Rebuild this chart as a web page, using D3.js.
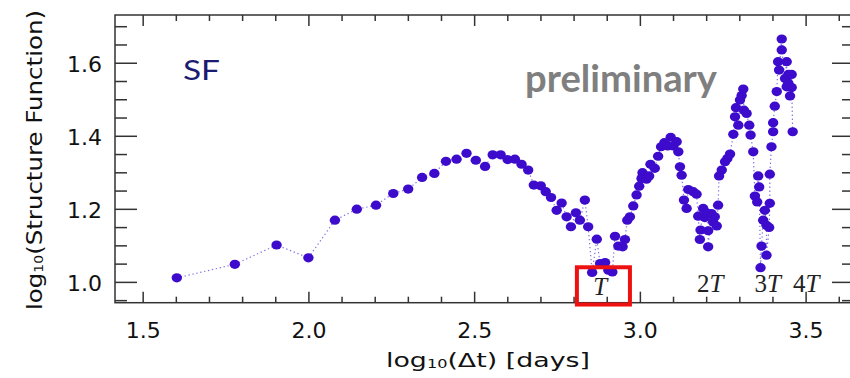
<!DOCTYPE html>
<html>
<head>
<meta charset="utf-8">
<script src="https://cdn.jsdelivr.net/npm/d3@7"></script>
<style>
  html, body { margin: 0; padding: 0; background: #fff; }
  svg { display: block; }
</style>
</head>
<body>
<div id="chart"></div>
<script>
// log10(dt) [days] and log10(SF)
const logDt = [1.603, 1.778, 1.904, 2.000, 2.080, 2.146, 2.204, 2.256, 2.301, 2.343,
  2.380, 2.415, 2.447, 2.477, 2.505, 2.533, 2.556, 2.580, 2.601, 2.623,
  2.643, 2.663, 2.680, 2.701, 2.716, 2.732, 2.749, 2.764, 2.779, 2.792,
  2.807, 2.819, 2.834, 2.844, 2.856, 2.870, 2.880, 2.895, 2.905, 2.917,
  2.925, 2.935, 2.948, 2.955, 2.962, 2.970, 2.980, 2.990, 2.998, 3.005,
  3.008, 3.020, 3.028, 3.032, 3.045, 3.055, 3.064, 3.074, 3.084, 3.093,
  3.101, 3.111, 3.116, 3.121, 3.126, 3.133, 3.141, 3.146, 3.161, 3.171,
  3.176, 3.181, 3.183, 3.191, 3.196, 3.201, 3.206, 3.206, 3.216, 3.221,
  3.226, 3.232, 3.236, 3.239, 3.247, 3.257, 3.264, 3.272, 3.282, 3.287,
  3.290, 3.297, 3.302, 3.307, 3.312, 3.314, 3.322, 3.330, 3.334, 3.342,
  3.347, 3.354, 3.357, 3.360, 3.364, 3.367, 3.372, 3.377, 3.382, 3.382,
  3.390, 3.392, 3.392, 3.397, 3.402, 3.402, 3.407, 3.413, 3.417, 3.420,
  3.428, 3.428, 3.438, 3.443, 3.443, 3.448, 3.448, 3.453, 3.458, 3.458, 3.461];

const logSF = [1.011, 1.048, 1.101, 1.066, 1.169, 1.199, 1.210, 1.242, 1.254, 1.286,
  1.297, 1.330, 1.336, 1.352, 1.333, 1.316, 1.348, 1.348, 1.335, 1.336,
  1.322, 1.306, 1.265, 1.263, 1.247, 1.231, 1.196, 1.216, 1.178, 1.151,
  1.189, 1.169, 1.224, 1.151, 1.026, 1.117, 1.050, 1.053, 1.032, 1.027,
  1.125, 1.098, 1.096, 1.116, 1.169, 1.178, 1.208, 1.238, 1.262, 1.283,
  1.299, 1.281, 1.290, 1.322, 1.311, 1.344, 1.370, 1.381, 1.372, 1.396,
  1.372, 1.384, 1.356, 1.315, 1.292, 1.224, 1.201, 1.253, 1.247, 1.240,
  1.180, 1.116, 1.142, 1.201, 1.176, 1.189, 1.140, 1.096, 1.187, 1.164,
  1.178, 1.153, 1.210, 1.290, 1.306, 1.329, 1.338, 1.350, 1.404, 1.452,
  1.477, 1.429, 1.498, 1.510, 1.528, 1.470, 1.461, 1.429, 1.402, 1.356,
  1.235, 1.219, 1.290, 1.260, 1.039, 1.098, 1.169, 1.196, 1.155, 1.073,
  1.149, 1.215, 1.295, 1.370, 1.411, 1.436, 1.481, 1.521, 1.603, 1.580,
  1.665, 1.635, 1.557, 1.603, 1.534, 1.568, 1.544, 1.509, 1.568, 1.532, 1.411];

const xMajor = [1.5, 2.0, 2.5, 3.0, 3.5];
const xMinor = [1.6, 1.7, 1.8, 1.9, 2.1, 2.2, 2.3, 2.4, 2.6, 2.7, 2.8, 2.9, 3.1, 3.2, 3.3, 3.4, 3.6];
const yMajor = [1.0, 1.2, 1.4, 1.6];
const yMinor = [0.95, 1.05, 1.1, 1.15, 1.25, 1.3, 1.35, 1.45, 1.5, 1.55, 1.65, 1.7];

// multiples of the period, marked under the curve
const periodPrefix = ['', '2', '3', '4'];
const periodAt = [2.88, 3.212, 3.386, 3.502];
// red box round the first minimum
const boxX = [2.81, 2.97];
const boxY = [0.938, 1.040];

const W = 850, H = 378;
const x = d3.scaleLinear().domain([1.4165, 3.646]).range([115, 854]);
const y = d3.scaleLinear().domain([0.943, 1.7307]).range([302.7, 15]);

const svg = d3.select('#chart').append('svg')
  .attr('width', W)
  .attr('height', H);

const pts = d3.zip(logDt, logSF).sort((a, b) => a[0] - b[0]);

svg.append('path')
  .datum(pts)
  .attr('fill', 'none')
  .attr('stroke', '#8070e4')
  .attr('stroke-width', 1.2)
  .attr('stroke-dasharray', '1.3,2.7')
  .attr('d', d3.line().x(d => x(d[0])).y(d => y(d[1])));

svg.selectAll('ellipse.pt')
  .data(pts)
  .enter()
  .append('ellipse')
  .attr('class', 'pt')
  .attr('cx', d => x(d[0]))
  .attr('cy', d => y(d[1]))
  .attr('rx', 5.2)
  .attr('ry', 4.6)
  .attr('fill', '#3d0bcc');

// axes: ticks on all four sides, pointing in
const axisFont = '"DejaVu Sans", sans-serif';
const x0 = x.range()[0], x1 = x.range()[1];
const y0 = y.range()[0], y1 = y.range()[1];

function styleAxis(g) {
  g.select('.domain').remove();
  g.selectAll('line').attr('stroke', '#333').attr('stroke-width', 1.5);
  g.attr('font-family', axisFont).attr('font-size', 22);
  g.selectAll('text').attr('fill', '#111');
}

svg.append('g')
  .attr('transform', `translate(0,${y0})`)
  .call(d3.axisBottom(x).tickValues(xMajor).tickSize(-11).tickFormat(d3.format('.1f')))
  .call(styleAxis)
  .call(g => g.selectAll('text').attr('y', 35.5).attr('dy', null));
svg.append('g')
  .attr('transform', `translate(0,${y0})`)
  .call(d3.axisBottom(x).tickValues(xMinor).tickSize(-6).tickFormat(''))
  .call(styleAxis);
svg.append('g')
  .attr('transform', `translate(0,${y1})`)
  .call(d3.axisTop(x).tickValues(xMajor).tickSize(-11).tickFormat(''))
  .call(styleAxis);
svg.append('g')
  .attr('transform', `translate(0,${y1})`)
  .call(d3.axisTop(x).tickValues(xMinor).tickSize(-6).tickFormat(''))
  .call(styleAxis);

svg.append('g')
  .attr('transform', `translate(${x0},0)`)
  .call(d3.axisLeft(y).tickValues(yMajor).tickSize(-22).tickFormat(d3.format('.1f')))
  .call(styleAxis)
  .call(g => g.selectAll('text').attr('x', -13).attr('dy', '0.38em'));
svg.append('g')
  .attr('transform', `translate(${x0},0)`)
  .call(d3.axisLeft(y).tickValues(yMinor).tickSize(-12).tickFormat(''))
  .call(styleAxis);
svg.append('g')
  .attr('transform', `translate(${x1},0)`)
  .call(d3.axisRight(y).tickValues(yMajor).tickSize(-22).tickFormat(''))
  .call(styleAxis);
svg.append('g')
  .attr('transform', `translate(${x1},0)`)
  .call(d3.axisRight(y).tickValues(yMinor).tickSize(-12).tickFormat(''))
  .call(styleAxis);

svg.append('rect')
  .attr('x', x0)
  .attr('y', y1)
  .attr('width', x1 - x0)
  .attr('height', y0 - y1)
  .attr('fill', 'none')
  .attr('stroke', '#333')
  .attr('stroke-width', 1.5);

// axis titles
const xt = svg.append('text')
  .attr('x', 488)
  .attr('y', 367)
  .attr('text-anchor', 'middle')
  .attr('font-family', axisFont)
  .attr('font-size', 20)
  .attr('fill', '#111')
  .attr('textLength', 204)
  .attr('lengthAdjust', 'spacingAndGlyphs');
xt.append('tspan').text('log');
xt.append('tspan').attr('font-size', 12).attr('dy', 1).text('10');
xt.append('tspan').attr('dy', -1).text('(Δt) [days]');

const yt = svg.append('text')
  .attr('transform', 'translate(42,160) rotate(-90)')
  .attr('text-anchor', 'middle')
  .attr('font-family', axisFont)
  .attr('font-size', 21)
  .attr('fill', '#111')
  .attr('textLength', 300)
  .attr('lengthAdjust', 'spacingAndGlyphs');
yt.append('tspan').text('log');
yt.append('tspan').attr('font-size', 12).attr('dy', 1).text('10');
yt.append('tspan').attr('dy', -1).text('(Structure Function)');

// annotations
svg.append('text')
  .attr('x', 183)
  .attr('y', 80)
  .attr('font-family', 'Lato, sans-serif')
  .attr('font-size', 26)
  .attr('fill', '#1b1b72')
  .attr('textLength', 37)
  .attr('lengthAdjust', 'spacingAndGlyphs')
  .text('SF');

svg.append('text')
  .attr('x', 717)
  .attr('y', 92)
  .attr('text-anchor', 'end')
  .attr('font-family', 'Lato, sans-serif')
  .attr('font-weight', 'bold')
  .attr('font-size', 38)
  .attr('fill', '#7f7f7f')
  .attr('textLength', 192)
  .attr('lengthAdjust', 'spacingAndGlyphs')
  .text('preliminary');

svg.append('rect')
  .attr('x', x(boxX[0]))
  .attr('y', y(boxY[1]))
  .attr('width', x(boxX[1]) - x(boxX[0]))
  .attr('height', y(boxY[0]) - y(boxY[1]))
  .attr('fill', 'none')
  .attr('stroke', '#ee1111')
  .attr('stroke-width', 4);

const pl = svg.selectAll('text.period')
  .data(periodAt)
  .enter()
  .append('text')
  .attr('class', 'period')
  .attr('x', d => x(d))
  .attr('y', (d, i) => i === 0 ? 295 : 292)
  .attr('text-anchor', 'middle')
  .attr('font-family', '"Liberation Serif", "DejaVu Serif", serif')
  .attr('font-size', 25)
  .attr('fill', '#222');
pl.append('tspan').text((d, i) => periodPrefix[i]);
pl.append('tspan').attr('font-style', 'italic').text('T');
</script>
</body>
</html>
